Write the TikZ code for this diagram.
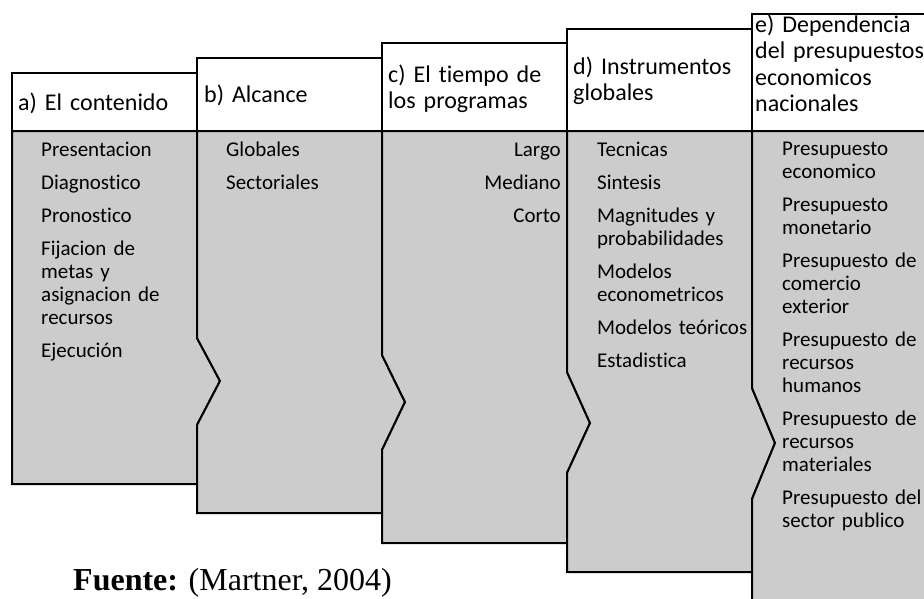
\documentclass[tikz,border=0pt]{standalone}
\usepackage{fontspec}
\setmainfont{Carlito}[Ligatures={NoCommon}]
\newfontfamily\timesfont{Liberation Serif}
\usepackage{tikz}
\definecolor{gris}{RGB}{204,204,204}
\tikzset{
  cuerpo/.style={line width=2pt, line join=miter, fill=gris},
  cabecera/.style={line width=2pt, fill=white},
  titulo/.style={anchor=base west, inner sep=0pt, text width=182pt, align=left,
    font=\fontsize{24}{26.5}\selectfont},
  lista/.style={anchor=base west, inner sep=0pt, text width=160pt, align=left,
    font=\fontsize{21}{23}\selectfont},
}

\begin{document}
\begin{tikzpicture}[x=1pt,y=-1pt]
\useasboundingbox (0,0) rectangle (924,598);
\clip (0,0) rectangle (924,598);
% cuerpos grises, cada uno con su muesca
\draw[cuerpo] (12,131)--++(185,0)--++(0,207)--++(23,43)--++(-23,44)--++(0,59)--++(-185,0)--cycle;
\draw[cuerpo] (197,131)--++(185,0)--++(0,224)--++(23,47)--++(-23,48)--++(0,63)--++(-185,0)--++(0,-88)--++(23,-44)--++(-23,-43)--cycle;
\draw[cuerpo] (382,131)--++(185,0)--++(0,241)--++(23,51)--++(-23,50)--++(0,70)--++(-185,0)--++(0,-93)--++(23,-48)--++(-23,-47)--cycle;
\draw[cuerpo] (567,131)--++(185,0)--++(0,257)--++(23,55)--++(-23,56)--++(0,73)--++(-185,0)--++(0,-99)--++(23,-50)--++(-23,-51)--cycle;
\draw[cuerpo] (752,131)--++(200,0)--++(0,500)--++(-200,0)--++(0,-132)--++(23,-56)--++(-23,-55)--cycle;
% cabeceras
\draw[cabecera] (12,73) rectangle (197,131);
\draw[cabecera] (197,58) rectangle (382,131);
\draw[cabecera] (382,43) rectangle (567,131);
\draw[cabecera] (567,29) rectangle (752,131);
\draw[cabecera] (752,14) rectangle (952,131);
% titulos
\node[titulo] (ta) at (18,110) {a) El contenido};
\node[titulo] (tb) at (204,102) {b) Alcance};
\node[titulo] (tc) at (388,82) {c) El tiempo de\\los programas};
\node[titulo] (td) at (573,74) {d) Instrumentos\\globales};
\node[titulo] (te) at (755,32) {e) Dependencia\\del presupuestos\\economicos\\nacionales};
% listas
\node[lista] (la) at (41,156) {Presentacion\\[10pt]Diagnostico\\[10pt]Pronostico\\[10pt]Fijacion de\\metas y\\asignacion de\\recursos\\[10pt]Ejecución};
\node[lista] (lb) at (226,156) {Globales\\[10pt]Sectoriales};
\node[lista, anchor=base east, align=right] (lc) at (561,156) {Largo\\[10pt]Mediano\\[10pt]Corto};
\node[lista] (ld) at (597,156) {Tecnicas\\[10pt]Sintesis\\[10pt]Magnitudes y\\probabilidades\\[10pt]Modelos\\econometricos\\[10pt]Modelos teóricos\\[10pt]Estadistica};
\node[lista] (le) at (782,155) {Presupuesto\\economico\\[10pt]Presupuesto\\monetario\\[10pt]Presupuesto de\\comercio\\exterior\\[10pt]Presupuesto de\\recursos\\humanos\\[10pt]Presupuesto de\\recursos\\materiales\\[10pt]Presupuesto del\\sector publico};
% fuente
\node[anchor=base west, inner sep=0pt, font=\timesfont\fontsize{32}{36}\selectfont] (fuente) at (73,590) {\textbf{Fuente:} (Martner, 2004)};
\end{tikzpicture}
\end{document}
